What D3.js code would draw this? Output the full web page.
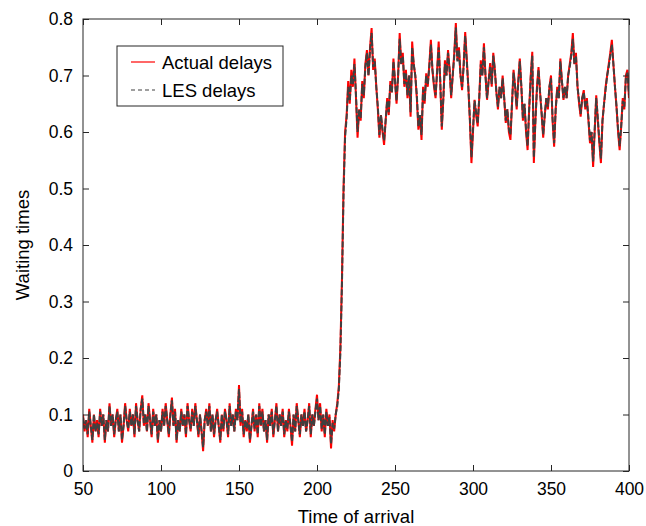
<!DOCTYPE html>
<html>
<head>
<meta charset="utf-8">
<script src="https://cdn.jsdelivr.net/npm/d3@7"></script>
<style>
  body { margin: 0; background: #fff; }
  text { font-family: "Liberation Sans", Arial, Helvetica, sans-serif; fill: #000; }
</style>
</head>
<body>
<script>
// time of arrival starts at 50, one sample per unit
var tStart = 50;

var actualDelays = [
 0.10,0.07,0.09,0.06,0.11,0.08,0.05,0.10,0.07,0.09,
 0.06,0.11,0.08,0.10,0.05,0.09,0.07,0.12,0.08,0.10,
 0.06,0.09,0.11,0.07,0.10,0.05,0.08,0.12,0.09,0.07,
 0.11,0.08,0.10,0.06,0.12,0.09,0.07,0.11,0.134,0.08,
 0.10,0.07,0.12,0.09,0.06,0.11,0.08,0.10,0.05,0.09,
 0.07,0.11,0.08,0.12,0.09,0.06,0.10,0.13,0.08,0.11,
 0.05,0.09,0.07,0.11,0.08,0.10,0.06,0.12,0.09,0.07,
 0.11,0.08,0.12,0.09,0.06,0.10,0.07,0.035,0.09,0.11,
 0.08,0.12,0.07,0.10,0.06,0.09,0.11,0.08,0.05,0.10,
 0.07,0.11,0.09,0.06,0.12,0.08,0.10,0.07,0.11,0.09,
 0.152,0.08,0.11,0.06,0.09,0.07,0.10,0.05,0.08,0.11,
 0.07,0.10,0.06,0.12,0.08,0.11,0.07,0.09,0.05,0.10,
 0.08,0.11,0.06,0.09,0.12,0.07,0.10,0.08,0.11,0.06,
 0.09,0.07,0.11,0.08,0.045,0.10,0.07,0.12,0.09,0.06,
 0.10,0.08,0.11,0.07,0.09,0.12,0.06,0.10,0.08,0.11,
 0.135,0.09,0.12,0.07,0.10,0.06,0.11,0.08,0.10,0.04,
 0.09,0.07,0.10,0.12,0.15,0.22,0.34,0.50,0.60,0.63,
 0.69,0.65,0.71,0.68,0.73,0.66,0.59,0.64,0.62,0.69,
 0.66,0.72,0.745,0.70,0.75,0.784,0.71,0.73,0.68,0.64,
 0.59,0.63,0.60,0.577,0.62,0.66,0.63,0.69,0.67,0.73,
 0.69,0.65,0.70,0.775,0.72,0.74,0.68,0.71,0.66,0.70,
 0.627,0.76,0.72,0.70,0.66,0.604,0.63,0.586,0.68,0.65,
 0.704,0.68,0.72,0.763,0.71,0.68,0.66,0.71,0.76,0.69,
 0.604,0.66,0.727,0.70,0.745,0.71,0.66,0.70,0.74,0.793,
 0.727,0.75,0.70,0.674,0.72,0.777,0.73,0.68,0.62,0.545,
 0.60,0.657,0.63,0.61,0.66,0.727,0.70,0.757,0.70,0.657,
 0.69,0.722,0.68,0.74,0.71,0.67,0.64,0.68,0.66,0.70,
 0.66,0.616,0.64,0.60,0.586,0.65,0.71,0.68,0.64,0.69,
 0.73,0.68,0.62,0.65,0.60,0.568,0.64,0.70,0.742,0.545,
 0.62,0.68,0.715,0.67,0.63,0.59,0.63,0.66,0.64,0.68,
 0.70,0.62,0.574,0.64,0.68,0.66,0.73,0.69,0.657,0.68,
 0.66,0.70,0.72,0.74,0.775,0.72,0.74,0.68,0.65,0.627,
 0.66,0.674,0.64,0.66,0.62,0.58,0.60,0.538,0.60,0.665,
 0.62,0.58,0.545,0.62,0.65,0.68,0.70,0.72,0.74,0.763,
 0.72,0.68,0.644,0.60,0.568,0.61,0.66,0.64,0.70,0.71,
 0.66
]

var lesDelays = [
 0.095,0.075,0.09,0.065,0.105,0.08,0.055,0.10,0.07,0.085,
 0.065,0.105,0.08,0.10,0.055,0.09,0.07,0.115,0.08,0.10,
 0.065,0.09,0.105,0.07,0.10,0.055,0.08,0.115,0.09,0.075,
 0.105,0.08,0.10,0.065,0.115,0.09,0.07,0.11,0.128,0.085,
 0.10,0.07,0.115,0.09,0.065,0.105,0.08,0.10,0.055,0.09,
 0.07,0.105,0.08,0.115,0.09,0.065,0.10,0.125,0.08,0.105,
 0.055,0.09,0.07,0.105,0.08,0.10,0.065,0.115,0.09,0.075,
 0.105,0.08,0.115,0.09,0.065,0.10,0.07,0.042,0.09,0.105,
 0.08,0.115,0.07,0.10,0.065,0.09,0.105,0.08,0.055,0.10,
 0.075,0.105,0.09,0.065,0.115,0.08,0.10,0.07,0.105,0.09,
 0.145,0.085,0.105,0.065,0.09,0.075,0.10,0.055,0.08,0.105,
 0.075,0.10,0.065,0.115,0.08,0.105,0.07,0.09,0.055,0.10,
 0.08,0.105,0.065,0.09,0.115,0.07,0.10,0.08,0.105,0.065,
 0.09,0.075,0.105,0.08,0.052,0.10,0.07,0.115,0.09,0.065,
 0.10,0.08,0.105,0.07,0.09,0.115,0.065,0.10,0.08,0.105,
 0.128,0.09,0.115,0.075,0.10,0.065,0.105,0.08,0.095,0.048,
 0.085,0.075,0.10,0.115,0.145,0.21,0.33,0.49,0.59,0.625,
 0.68,0.655,0.70,0.685,0.72,0.665,0.60,0.64,0.625,0.685,
 0.665,0.715,0.74,0.70,0.745,0.775,0.715,0.725,0.68,0.645,
 0.595,0.63,0.605,0.585,0.62,0.655,0.635,0.685,0.67,0.725,
 0.69,0.655,0.70,0.765,0.72,0.735,0.685,0.705,0.665,0.70,
 0.635,0.75,0.72,0.70,0.665,0.61,0.63,0.595,0.675,0.655,
 0.70,0.685,0.715,0.755,0.71,0.685,0.665,0.705,0.75,0.69,
 0.61,0.66,0.72,0.70,0.74,0.71,0.665,0.70,0.735,0.785,
 0.725,0.745,0.70,0.68,0.715,0.77,0.725,0.68,0.625,0.555,
 0.605,0.655,0.635,0.615,0.66,0.72,0.70,0.75,0.70,0.66,
 0.69,0.715,0.685,0.735,0.71,0.67,0.645,0.68,0.66,0.695,
 0.66,0.62,0.64,0.605,0.595,0.65,0.705,0.68,0.645,0.685,
 0.725,0.68,0.625,0.65,0.605,0.575,0.64,0.695,0.735,0.555,
 0.62,0.675,0.71,0.67,0.635,0.595,0.63,0.66,0.645,0.68,
 0.695,0.625,0.58,0.64,0.675,0.66,0.725,0.69,0.66,0.68,
 0.66,0.70,0.715,0.735,0.765,0.72,0.735,0.68,0.655,0.632,
 0.66,0.67,0.645,0.655,0.625,0.585,0.60,0.548,0.605,0.66,
 0.625,0.585,0.553,0.62,0.65,0.675,0.70,0.715,0.735,0.755,
 0.72,0.68,0.645,0.605,0.575,0.61,0.655,0.645,0.695,0.705,
 0.665
]

var xTicks = [50, 100, 150, 200, 250, 300, 350, 400]
var yTicks = [0, 0.1, 0.2, 0.3, 0.4, 0.5, 0.6, 0.7, 0.8]

var actual = actualDelays.map(function(v, i) { return { t: tStart + i, v: v } })
var les = lesDelays.map(function(v, i) { return { t: tStart + i, v: v } })

var margin = {top: 19, right: 17, bottom: 55, left: 83},
  width = 646 - margin.left - margin.right,
  height = 526 - margin.top - margin.bottom

var svg = d3.select('body').append('svg')
  .attr('width', 646).attr('height', 526)

var g = svg.append('g')
  .attr('transform', 'translate(' + margin.left + ',' + margin.top + ')')

var x = d3.scaleLinear().domain([50, 400]).range([0, width])
var y = d3.scaleLinear().domain([0, 0.8]).range([height, 0])

var axisColor = '#262626'

// clip so lines stay in the box
g.append('clipPath').attr('id', 'clip').append('rect')
  .attr('width', width).attr('height', height)

var line = d3.line()
  .x(function(d) { return x(d.t) })
  .y(function(d) { return y(d.v) })

var plot = g.append('g').attr('clip-path', 'url(#clip)')

plot.append('path').datum(actual)
  .attr('d', line)
  .attr('fill', 'none')
  .attr('stroke', '#ff0000')
  .attr('stroke-width', 2)

plot.append('path').datum(les)
  .attr('d', line)
  .attr('fill', 'none')
  .attr('stroke', '#404040')
  .attr('stroke-width', 2)
  .attr('stroke-dasharray', '6,2')

// axes - ticks inward on all four sides
function styleAxis(sel) {
  sel.select('.domain').remove()
  sel.selectAll('.tick line').attr('stroke', axisColor)
  sel.selectAll('.tick text')
    .style('font-family', '"Liberation Sans", Arial, sans-serif')
    .style('font-size', '17.5px')
    .attr('fill', '#000')
}

g.append('g').attr('transform', 'translate(0,' + height + ')')
  .call(d3.axisBottom(x).tickValues(xTicks).tickSizeInner(-6).tickSizeOuter(0).tickPadding(12).tickFormat(d3.format('d')))
  .call(styleAxis)

g.append('g')
  .call(d3.axisTop(x).tickValues(xTicks).tickSizeInner(-6).tickSizeOuter(0).tickFormat(''))
  .call(styleAxis)

g.append('g')
  .call(d3.axisLeft(y).tickValues(yTicks).tickSizeInner(-6).tickSizeOuter(0).tickPadding(10)
    .tickFormat(function(d) { return d === 0 ? '0' : d3.format('.1f')(d) }))
  .call(styleAxis)

g.append('g').attr('transform', 'translate(' + width + ',0)')
  .call(d3.axisRight(y).tickValues(yTicks).tickSizeInner(-6).tickSizeOuter(0).tickFormat(''))
  .call(styleAxis)

g.append('rect')
  .attr('width', width).attr('height', height)
  .attr('fill', 'none').attr('stroke', axisColor).attr('stroke-width', 1)

// axis titles
g.append('text')
  .attr('x', width / 2).attr('y', height + 52)
  .attr('text-anchor', 'middle')
  .style('font-size', '18.5px')
  .text('Time of arrival')

g.append('text')
  .attr('transform', 'translate(' + (-54) + ',' + (height / 2) + ') rotate(-90)')
  .attr('text-anchor', 'middle')
  .style('font-size', '18.5px')
  .text('Waiting times')

// legend
var legend = g.append('g').attr('transform', 'translate(' + (117 - margin.left) + ',' + (46 - margin.top) + ')')

legend.append('rect')
  .attr('width', 166).attr('height', 60)
  .attr('fill', '#fff').attr('stroke', axisColor).attr('stroke-width', 1)

var legendItems = [
  { label: 'Actual delays', color: '#ff0000', dash: null, ly: 16 },
  { label: 'LES delays', color: '#404040', dash: '4,3', ly: 44 }
]

legendItems.forEach(function(item) {
  legend.append('line')
    .attr('x1', 14).attr('x2', 38)
    .attr('y1', item.ly).attr('y2', item.ly)
    .attr('stroke', item.color).attr('stroke-width', 1.2)
    .attr('stroke-dasharray', item.dash)
  legend.append('text')
    .attr('x', 45).attr('y', item.ly + 6.5)
    .style('font-size', '18.5px')
    .text(item.label)
})
</script>
</body>
</html>
